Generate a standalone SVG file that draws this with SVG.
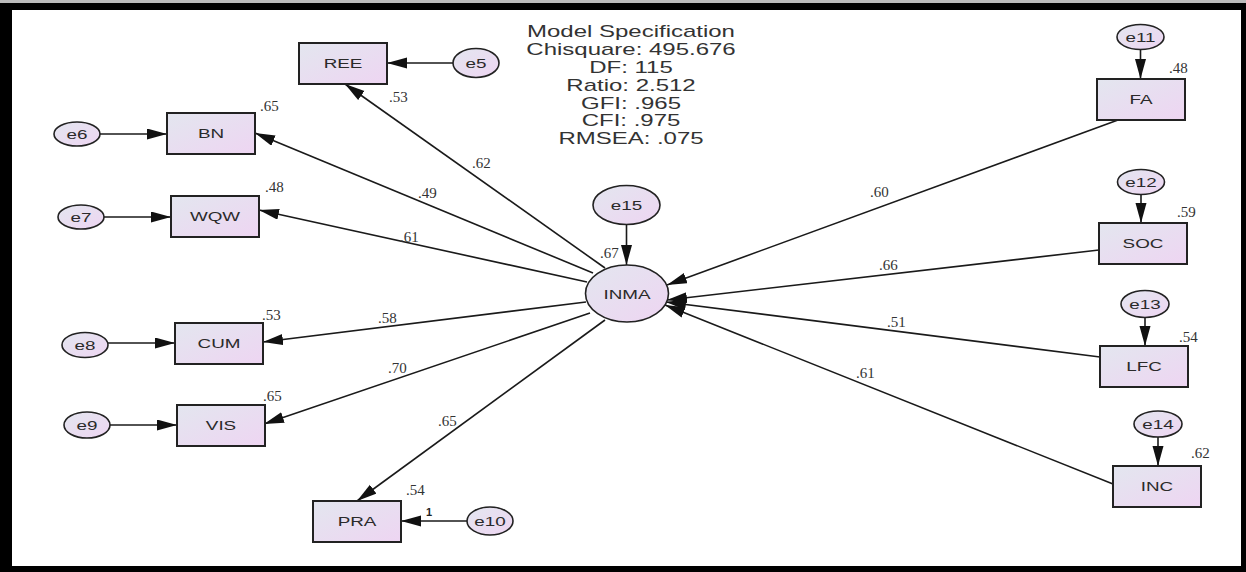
<svg xmlns="http://www.w3.org/2000/svg" width="1246" height="572" viewBox="0 0 1246 572">
<defs>
<linearGradient id="g" x1="0" y1="0" x2="1" y2="1">
<stop offset="0" stop-color="#e3e6ef"/>
<stop offset="1" stop-color="#eed5f2"/>
</linearGradient>
<marker id="ah" markerUnits="userSpaceOnUse" markerWidth="22" markerHeight="12" refX="20" refY="5.5" orient="auto">
<path d="M0,0 L20,5.5 L0,11 z" fill="#111"/>
</marker>
<style>
.box{fill:url(#g);stroke:#222;stroke-width:2}
.ell{fill:url(#g);stroke:#222;stroke-width:1.6}
.n{font-family:"Liberation Sans",Arial,sans-serif;font-size:13px;fill:#2a2a2a;text-anchor:middle}
.v{font-family:"Liberation Serif","Times New Roman",serif;font-size:15px;fill:#333}
.ttl{font-family:"Liberation Sans",Arial,sans-serif;font-size:16px;fill:#333;text-anchor:middle}
.c line{stroke:#1a1a1a;stroke-width:1.6;marker-end:url(#ah)}
</style>
</defs>
<rect x="0" y="0" width="1246" height="572" fill="#000"/>
<rect x="0" y="0" width="1246" height="3" fill="#bbb"/>
<rect x="12" y="10" width="1229" height="556" fill="#fff"/>

<g id="title">
<text class="ttl" transform="translate(631,37) scale(1.5,1)">Model Specification</text>
<text class="ttl" transform="translate(631,55) scale(1.5,1)">Chisquare: 495.676</text>
<text class="ttl" transform="translate(631,73) scale(1.5,1)">DF: 115</text>
<text class="ttl" transform="translate(631,90.5) scale(1.5,1)">Ratio: 2.512</text>
<text class="ttl" transform="translate(631,108.5) scale(1.5,1)">GFI: .965</text>
<text class="ttl" transform="translate(631,126) scale(1.5,1)">CFI: .975</text>
<text class="ttl" transform="translate(631,144) scale(1.5,1)">RMSEA: .075</text>
</g>

<g id="connectors" class="c">
<line x1="605" y1="268" x2="345" y2="84"/>
<line x1="593" y1="273" x2="255" y2="133"/>
<line x1="587" y1="282" x2="259" y2="210"/>
<line x1="586" y1="302" x2="263" y2="342"/>
<line x1="590" y1="313" x2="264" y2="424"/>
<line x1="605" y1="320" x2="357" y2="501"/>
<line x1="1118" y1="120" x2="667" y2="285"/>
<line x1="1099" y1="250" x2="667" y2="300"/>
<line x1="1100" y1="357" x2="666" y2="302"/>
<line x1="1113" y1="484" x2="665" y2="305"/>
<line x1="453" y1="63" x2="387" y2="63"/>
<line x1="100" y1="134" x2="167" y2="134"/>
<line x1="104" y1="217" x2="171" y2="217"/>
<line x1="108" y1="343" x2="175" y2="343"/>
<line x1="110" y1="425" x2="177" y2="425"/>
<line x1="467" y1="521" x2="401" y2="521"/>
<line x1="1140.5" y1="49.5" x2="1140.5" y2="79"/>
<line x1="1141" y1="194.5" x2="1141" y2="223"/>
<line x1="1145" y1="317" x2="1145" y2="346"/>
<line x1="1158" y1="436.5" x2="1158" y2="466"/>
<line x1="626.5" y1="225" x2="626.5" y2="265"/>
</g>

<g id="labels">
<text class="v" x="389" y="102">.53</text>
<text class="v" x="260" y="111">.65</text>
<text class="v" x="265" y="192">.48</text>
<text class="v" x="472" y="168">.62</text>
<text class="v" x="418" y="198">.49</text>
<text class="v" x="400" y="242">.61</text>
<text class="v" x="600" y="258">.67</text>
<text class="v" x="378" y="323">.58</text>
<text class="v" x="262" y="320">.53</text>
<text class="v" x="388" y="373">.70</text>
<text class="v" x="263" y="401">.65</text>
<text class="v" x="438" y="426">.65</text>
<text class="v" x="406" y="495">.54</text>
<text x="426" y="516" font-family="Liberation Sans, Arial, sans-serif" font-size="11" font-weight="bold" fill="#222">1</text>
<text class="v" x="870" y="197">.60</text>
<text class="v" x="879" y="270">.66</text>
<text class="v" x="887" y="327">.51</text>
<text class="v" x="856" y="378">.61</text>
<text class="v" x="1169" y="73">.48</text>
<text class="v" x="1177" y="217">.59</text>
<text class="v" x="1179" y="342">.54</text>
<text class="v" x="1191" y="458">.62</text>
</g>

<g id="INMA"><ellipse class="ell" cx="627" cy="293.5" rx="41.5" ry="28.5"/><text class="n" transform="translate(627,298.5) scale(1.45,1)">INMA</text></g>
<g id="e15"><ellipse class="ell" cx="626.5" cy="205" rx="33.5" ry="19.5"/><text class="n" transform="translate(626.5,209.6) scale(1.45,1)">e15</text></g>

<g id="REE"><rect class="box" x="299" y="43" width="88" height="41"/><text class="n" transform="translate(343,68.1) scale(1.45,1)">REE</text></g>
<g id="BN"><rect class="box" x="167" y="113" width="88" height="41"/><text class="n" transform="translate(211,138.1) scale(1.45,1)">BN</text></g>
<g id="WQW"><rect class="box" x="171" y="196" width="88" height="41"/><text class="n" transform="translate(215,221.1) scale(1.45,1)">WQW</text></g>
<g id="CUM"><rect class="box" x="175" y="323" width="88" height="41"/><text class="n" transform="translate(219,348.1) scale(1.45,1)">CUM</text></g>
<g id="VIS"><rect class="box" x="177" y="405" width="88" height="41"/><text class="n" transform="translate(221,430.1) scale(1.45,1)">VIS</text></g>
<g id="PRA"><rect class="box" x="313" y="501" width="88" height="41"/><text class="n" transform="translate(357,526.1) scale(1.45,1)">PRA</text></g>
<g id="FA"><rect class="box" x="1097" y="79" width="88" height="41"/><text class="n" transform="translate(1141,104.1) scale(1.45,1)">FA</text></g>
<g id="SOC"><rect class="box" x="1099" y="223" width="88" height="41"/><text class="n" transform="translate(1143,248.1) scale(1.45,1)">SOC</text></g>
<g id="LFC"><rect class="box" x="1100" y="346" width="88" height="41"/><text class="n" transform="translate(1144,371.1) scale(1.45,1)">LFC</text></g>
<g id="INC"><rect class="box" x="1113" y="466" width="88" height="41"/><text class="n" transform="translate(1157,491.1) scale(1.45,1)">INC</text></g>

<g id="e5"><ellipse class="ell" cx="476" cy="63" rx="23" ry="14.5"/><text class="n" transform="translate(476,67.6) scale(1.45,1)">e5</text></g>
<g id="e6"><ellipse class="ell" cx="77" cy="134" rx="23" ry="12"/><text class="n" transform="translate(77,138.6) scale(1.45,1)">e6</text></g>
<g id="e7"><ellipse class="ell" cx="81" cy="217" rx="23" ry="12"/><text class="n" transform="translate(81,221.6) scale(1.45,1)">e7</text></g>
<g id="e8"><ellipse class="ell" cx="85" cy="345" rx="23" ry="12.5"/><text class="n" transform="translate(85,349.6) scale(1.45,1)">e8</text></g>
<g id="e9"><ellipse class="ell" cx="87" cy="425" rx="23" ry="13"/><text class="n" transform="translate(87,429.6) scale(1.45,1)">e9</text></g>
<g id="e10"><ellipse class="ell" cx="490" cy="521" rx="23" ry="14"/><text class="n" transform="translate(490,525.6) scale(1.45,1)">e10</text></g>
<g id="e11"><ellipse class="ell" cx="1140.5" cy="37" rx="23.5" ry="12.5"/><text class="n" transform="translate(1140.5,41.6) scale(1.45,1)">e11</text></g>
<g id="e12"><ellipse class="ell" cx="1141" cy="182" rx="23.5" ry="12.5"/><text class="n" transform="translate(1141,186.6) scale(1.45,1)">e12</text></g>
<g id="e13"><ellipse class="ell" cx="1145" cy="304" rx="24" ry="13.5"/><text class="n" transform="translate(1145,308.6) scale(1.45,1)">e13</text></g>
<g id="e14"><ellipse class="ell" cx="1158" cy="424" rx="24" ry="13"/><text class="n" transform="translate(1158,428.6) scale(1.45,1)">e14</text></g>
</svg>
